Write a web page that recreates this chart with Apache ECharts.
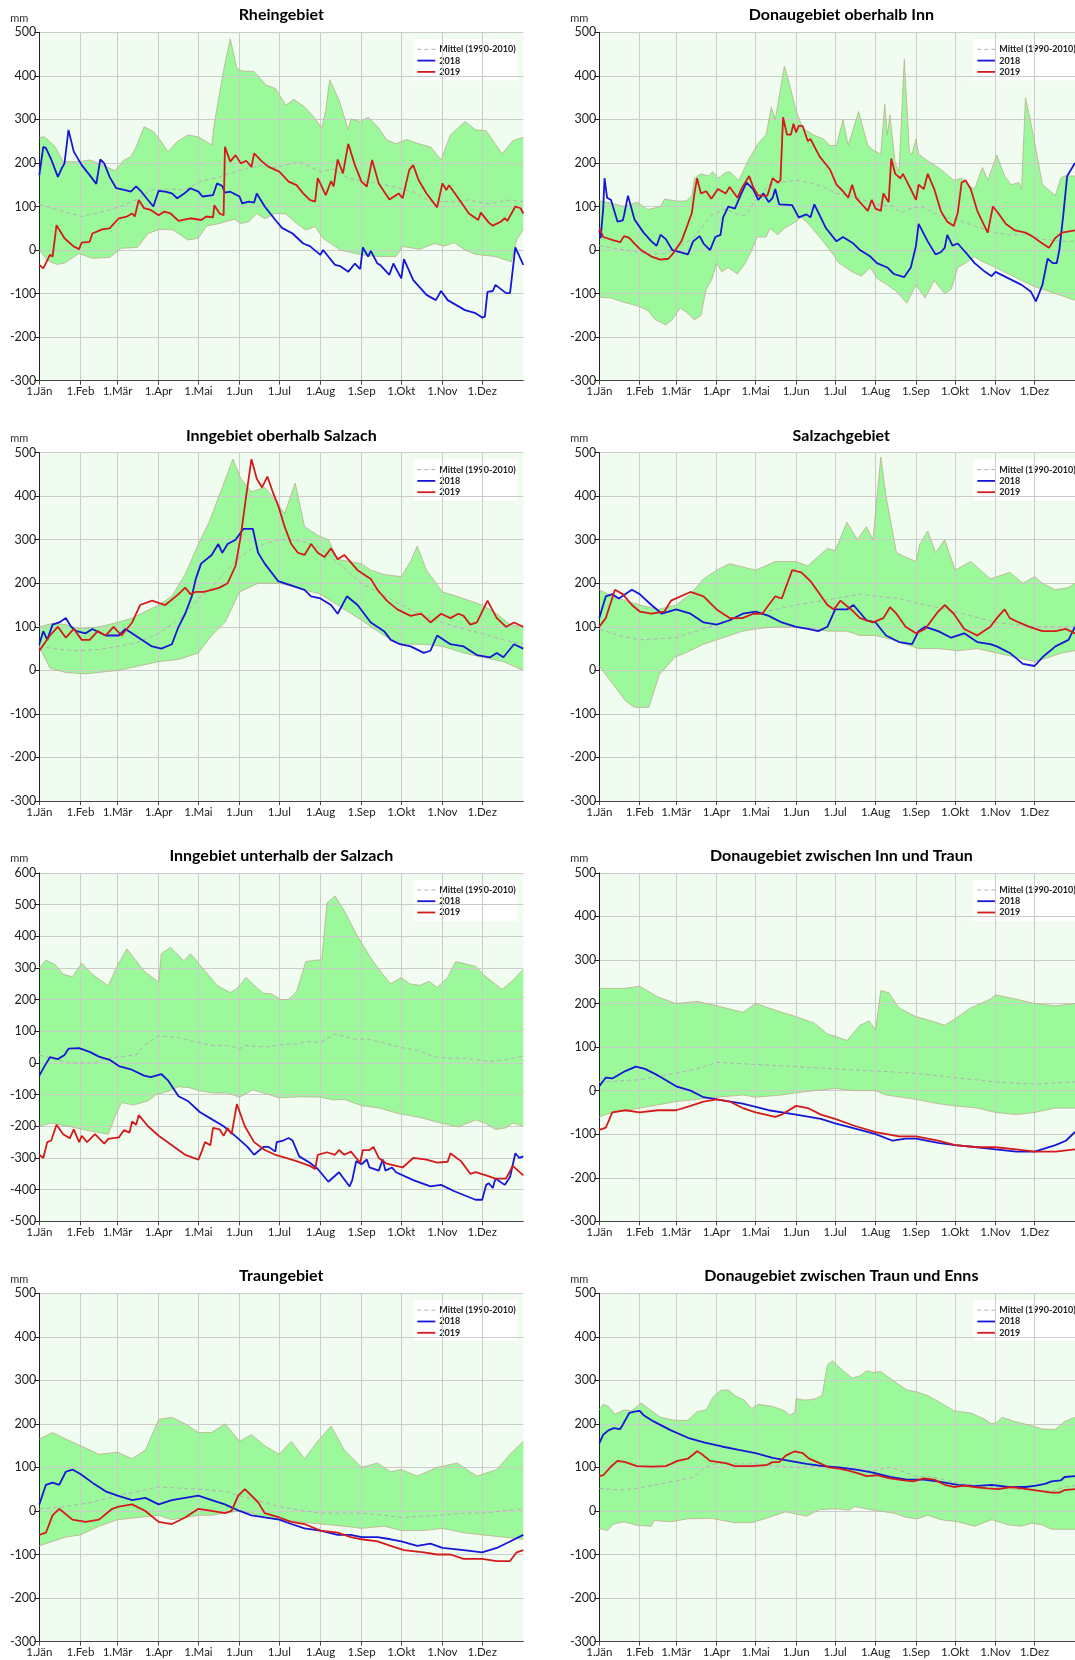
<!DOCTYPE html>
<html>
<head>
<meta charset="utf-8">
<script src="https://cdn.jsdelivr.net/npm/echarts@6/dist/echarts.min.js"></script>
<style>
html,body{margin:0;padding:0;background:#ffffff;}
#chart{width:1075px;height:1660px;}
</style>
</head>
<body>
<div id="chart"></div>
<script>
// Month ticks (day of year at the first of each month) and their labels
const monthDays = [0, 31, 59, 90, 120, 151, 181, 212, 243, 273, 304, 334];
const monthLabels = ['1.Jän', '1.Feb', '1.Mär', '1.Apr', '1.Mai', '1.Jun', '1.Jul', '1.Aug', '1.Sep', '1.Okt', '1.Nov', '1.Dez'];
const legendNames = ['Mittel (1990-2010)', '2018', '2019'];

// ---- Rheingebiet ----  [day of year, mm]
const rheinMax = [[0,258],[4,260],[12,237],[18,203],[30,203],[38,207],[48,195],[57,182],[64,207],[69,214],[73,237],[79,283],[86,272],[92,249],[97,226],[104,249],[112,264],[120,260],[126,249],[130,241],[132,291],[139,413],[144,485],[149,417],[153,411],[162,410],[171,379],[178,371],[186,333],[192,346],[200,329],[207,306],[213,280],[216,322],[219,391],[226,345],[233,276],[235,301],[242,295],[248,305],[256,280],[262,253],[269,244],[277,254],[285,245],[295,237],[303,207],[310,264],[321,295],[329,276],[337,274],[349,221],[357,251],[365,259]];
const rheinMin = [[0,0],[6,-23],[13,-33],[19,-30],[30,-8],[40,-19],[53,-17],[62,4],[74,6],[82,38],[91,48],[101,46],[112,23],[120,27],[126,55],[136,61],[147,71],[152,61],[158,65],[164,84],[170,72],[178,84],[186,83],[194,61],[201,46],[208,54],[214,27],[227,0],[243,-11],[256,-15],[269,-15],[274,8],[287,2],[298,15],[305,9],[313,17],[321,0],[329,-10],[344,-15],[356,-27],[360,23],[365,48]];
const rheinMean = [[0,105],[14,92],[32,77],[48,88],[61,100],[74,117],[84,138],[100,140],[110,138],[121,157],[136,168],[152,184],[168,195],[178,189],[196,203],[212,180],[222,186],[233,165],[251,155],[266,146],[282,134],[295,111],[313,111],[323,115],[339,106],[355,115],[365,111]];
const rhein2018 = [[0,172],[1,168],[3,237],[5,234],[9,208],[14,168],[17,188],[19,199],[22,276],[26,226],[32,195],[38,172],[43,152],[46,208],[49,199],[53,168],[58,142],[64,138],[69,134],[73,146],[77,134],[82,115],[86,100],[90,136],[95,134],[100,130],[104,119],[109,129],[114,142],[120,134],[123,123],[131,126],[134,153],[138,147],[140,132],[144,134],[151,123],[153,107],[158,111],[162,109],[164,130],[170,100],[178,69],[183,51],[191,38],[199,15],[204,9],[212,-11],[214,0],[223,-34],[227,-37],[233,-50],[238,-31],[242,-44],[244,6],[248,-15],[250,-2],[255,-31],[257,-34],[264,-57],[267,-31],[273,-65],[275,-21],[282,-69],[292,-103],[299,-115],[303,-94],[308,-115],[321,-138],[329,-145],[334,-155],[336,-153],[338,-96],[342,-94],[344,-80],[352,-99],[355,-99],[359,6],[365,-34]];
const rhein2019 = [[0,-34],[3,-42],[8,-11],[10,-15],[13,57],[19,27],[26,8],[30,2],[32,17],[38,19],[40,38],[48,48],[53,50],[60,73],[66,77],[70,84],[72,77],[75,115],[79,96],[84,92],[90,80],[94,88],[99,84],[105,67],[114,73],[122,69],[126,77],[131,75],[132,103],[136,84],[139,80],[140,237],[144,203],[148,218],[152,199],[156,205],[160,191],[162,222],[168,203],[173,191],[181,180],[188,157],[194,149],[199,130],[204,115],[208,111],[210,165],[216,126],[220,158],[222,146],[225,208],[229,176],[233,244],[238,195],[243,157],[247,146],[251,207],[256,153],[264,116],[269,126],[271,130],[274,119],[279,184],[282,195],[286,161],[292,130],[300,98],[304,153],[307,138],[309,149],[316,119],[324,84],[331,69],[333,86],[339,63],[342,56],[348,65],[351,73],[353,67],[359,100],[363,96],[365,84]];

// ---- Donaugebiet oberhalb Inn ----
const donauInnMax = [[0,113],[9,108],[19,100],[29,110],[37,93],[47,100],[50,117],[60,112],[67,113],[71,125],[73,165],[78,175],[84,170],[87,180],[91,165],[97,178],[100,180],[107,160],[115,210],[122,245],[128,265],[132,328],[135,300],[142,422],[146,380],[151,320],[156,280],[164,265],[172,255],[177,240],[182,240],[187,300],[191,240],[199,318],[206,240],[210,230],[216,220],[219,335],[221,265],[223,310],[227,200],[230,180],[234,438],[238,225],[240,220],[243,255],[245,220],[252,205],[262,185],[272,160],[278,165],[283,150],[288,140],[294,190],[298,160],[305,218],[311,170],[316,150],[322,155],[324,140],[327,350],[333,265],[340,150],[350,125],[354,165],[357,170],[365,170]];
const donauInnMin = [[0,-108],[9,-110],[19,-120],[29,-128],[37,-138],[43,-160],[51,-172],[56,-160],[62,-133],[67,-143],[73,-160],[78,-150],[82,-90],[86,-70],[90,-30],[94,-50],[99,-40],[106,-55],[112,-30],[117,0],[121,30],[128,30],[131,50],[137,35],[142,50],[148,60],[155,75],[160,62],[169,30],[177,0],[184,-30],[194,-50],[201,-60],[208,-40],[213,-65],[221,-80],[228,-95],[236,-122],[243,-80],[250,-110],[257,-70],[265,-100],[270,-90],[275,-40],[281,-30],[288,-15],[293,-25],[304,-40],[314,-55],[324,-70],[335,-85],[345,-95],[355,-105],[365,-115]];
const donauInnMean = [[0,10],[20,0],[40,-10],[50,-8],[60,5],[73,30],[86,80],[97,95],[107,80],[112,80],[120,115],[130,150],[138,155],[151,160],[161,155],[172,145],[182,130],[192,125],[203,115],[213,105],[226,100],[231,85],[239,95],[247,100],[257,85],[267,75],[275,70],[288,55],[304,40],[314,35],[329,35],[340,25],[355,20],[365,20]];
const donauInn2018 = [[0,45],[1,27],[3,95],[4,165],[6,120],[9,115],[11,95],[14,65],[18,68],[19,80],[20,80],[22,125],[27,70],[34,40],[40,20],[44,10],[47,35],[51,25],[56,0],[62,-5],[68,-10],[72,20],[77,32],[80,15],[85,0],[89,30],[93,35],[95,75],[99,100],[104,95],[109,130],[113,155],[118,140],[122,115],[126,130],[130,110],[133,120],[135,140],[138,105],[148,103],[153,75],[159,82],[162,75],[165,105],[174,50],[182,20],[187,30],[195,15],[200,0],[208,-15],[213,-30],[221,-40],[226,-55],[234,-62],[239,-40],[243,10],[245,60],[252,20],[258,-10],[262,-5],[265,5],[267,35],[271,10],[275,15],[281,-5],[288,-30],[296,-50],[301,-60],[304,-50],[314,-65],[324,-80],[331,-95],[335,-118],[340,-80],[344,-20],[348,-30],[351,-30],[353,0],[356,80],[359,170],[365,200]];
const donauInn2019 = [[0,50],[3,30],[11,22],[16,18],[19,32],[23,28],[27,15],[32,0],[40,-15],[47,-22],[53,-20],[56,-10],[63,20],[68,60],[71,85],[73,130],[75,165],[78,130],[82,135],[86,118],[91,140],[97,130],[100,145],[106,120],[109,140],[115,170],[118,145],[122,125],[129,125],[133,165],[137,155],[139,160],[141,305],[144,265],[147,265],[149,290],[151,270],[153,285],[156,285],[160,250],[162,255],[169,215],[177,185],[182,150],[187,135],[191,120],[194,150],[197,120],[203,100],[206,90],[209,115],[212,95],[216,90],[218,130],[222,110],[224,210],[227,175],[231,165],[233,175],[239,140],[243,115],[245,150],[249,140],[252,175],[257,140],[262,90],[267,65],[272,55],[275,85],[278,155],[281,160],[285,140],[290,90],[298,40],[302,100],[306,85],[312,60],[319,45],[327,40],[332,32],[340,15],[345,5],[350,28],[355,40],[365,45]];

// ---- Inngebiet oberhalb Salzach ----
const innObMax = [[0,100],[10,108],[20,105],[31,95],[45,100],[59,110],[70,120],[90,150],[100,170],[110,220],[120,290],[128,340],[138,420],[146,485],[152,440],[160,410],[170,420],[178,390],[185,360],[193,430],[200,330],[210,310],[218,300],[225,255],[243,245],[250,230],[260,220],[273,215],[280,250],[285,285],[292,230],[304,180],[315,170],[334,150],[345,130],[355,105],[365,100]];
const innObMin = [[0,55],[8,5],[20,-5],[35,-8],[50,-3],[60,0],[75,10],[90,20],[105,25],[120,40],[130,80],[140,110],[151,180],[165,200],[181,200],[200,185],[212,175],[225,150],[243,115],[260,80],[273,60],[290,60],[304,55],[320,40],[334,30],[350,20],[365,0]];
const innObMean = [[0,55],[15,48],[30,45],[45,48],[60,55],[75,65],[90,85],[100,105],[110,130],[120,165],[130,190],[140,225],[151,260],[160,278],[170,290],[181,300],[190,300],[200,295],[212,280],[228,240],[243,200],[258,175],[273,150],[290,125],[304,110],[320,95],[334,85],[350,70],[365,60]];
const innOb2018 = [[0,60],[3,90],[6,70],[10,105],[15,110],[20,120],[24,100],[28,90],[35,85],[40,95],[50,80],[60,80],[65,95],[75,75],[85,55],[92,50],[100,60],[105,100],[110,130],[115,170],[118,210],[122,245],[130,265],[135,290],[138,270],[142,290],[148,300],[154,325],[161,325],[165,270],[170,245],[180,205],[190,195],[200,185],[205,170],[212,165],[220,150],[225,130],[232,170],[240,150],[250,110],[260,90],[265,70],[272,60],[280,55],[290,40],[295,45],[300,80],[310,60],[320,55],[330,35],[340,30],[345,40],[350,30],[358,60],[365,50]];
const innOb2019 = [[0,45],[8,80],[14,100],[20,75],[26,95],[32,70],[38,70],[44,90],[50,80],[56,100],[62,80],[70,110],[76,150],[85,160],[95,150],[105,175],[110,190],[114,175],[118,180],[124,180],[130,185],[136,190],[142,200],[148,240],[152,310],[156,400],[160,485],[164,440],[168,420],[172,445],[176,410],[180,380],[185,330],[190,290],[195,270],[200,265],[205,290],[210,270],[215,260],[220,280],[225,255],[230,265],[240,230],[250,210],[255,185],[262,160],[270,140],[280,125],[288,130],[295,110],[303,130],[310,120],[316,130],[320,125],[325,105],[330,110],[338,160],[345,120],[352,100],[358,110],[365,100]];

// ---- Salzachgebiet ----
const salzachMax = [[0,185],[10,170],[20,160],[31,150],[45,140],[59,150],[70,175],[80,210],[90,230],[100,245],[120,230],[135,250],[151,250],[160,240],[175,280],[181,275],[190,340],[198,300],[205,330],[210,300],[216,490],[220,400],[228,270],[235,260],[243,250],[246,290],[252,320],[258,270],[265,300],[273,230],[285,250],[300,210],[315,225],[325,200],[334,215],[340,200],[350,185],[360,190],[365,200]];
const salzachMin = [[0,10],[10,-30],[20,-70],[27,-85],[38,-85],[46,-10],[58,30],[66,40],[80,60],[90,70],[100,80],[110,90],[120,95],[135,100],[150,100],[165,95],[175,90],[190,90],[200,80],[212,80],[225,70],[235,60],[245,50],[260,50],[275,45],[290,50],[305,40],[320,30],[334,20],[345,30],[355,40],[365,45]];
const salzachMean = [[0,95],[15,80],[31,70],[59,75],[90,105],[120,130],[151,150],[181,165],[200,175],[212,170],[230,165],[243,155],[273,135],[304,110],[334,100],[365,100]];
const salzach2018 = [[0,120],[5,170],[10,175],[15,165],[25,185],[31,175],[40,150],[48,130],[59,140],[70,130],[80,110],[90,105],[100,115],[110,130],[120,135],[130,125],[140,110],[151,100],[160,95],[168,90],[175,100],[181,140],[190,140],[195,150],[205,115],[212,110],[220,80],[230,65],[240,60],[245,90],[250,100],[260,90],[270,75],[280,85],[290,65],[300,60],[305,55],[315,40],[325,15],[334,10],[340,30],[350,55],[360,70],[365,100]];
const salzach2019 = [[0,100],[5,120],[12,185],[18,175],[25,150],[31,135],[40,130],[50,135],[55,160],[70,180],[80,170],[90,140],[100,120],[110,120],[118,130],[125,130],[130,150],[135,170],[140,165],[148,230],[155,225],[162,205],[168,180],[175,150],[180,140],[185,160],[195,135],[200,120],[210,110],[218,120],[223,145],[228,130],[235,100],[243,85],[250,95],[260,135],[265,150],[272,130],[280,95],[290,80],[300,100],[305,120],[311,140],[315,120],[322,110],[330,100],[340,90],[350,90],[358,95],[365,85]];

// ---- Inngebiet unterhalb der Salzach ----
const innUnMax = [[0,300],[5,325],[12,310],[18,280],[25,272],[32,315],[40,280],[52,243],[58,300],[66,360],[79,290],[90,255],[92,345],[99,365],[109,322],[114,345],[123,300],[134,245],[144,222],[149,235],[156,270],[162,245],[169,220],[175,218],[182,200],[188,200],[194,225],[201,320],[209,325],[213,325],[217,505],[223,527],[230,480],[240,400],[251,325],[259,280],[265,250],[273,270],[279,250],[287,245],[294,258],[300,238],[308,270],[314,320],[329,305],[336,275],[349,232],[357,260],[365,295]];
const innUnMin = [[0,-200],[9,-190],[22,-200],[35,-212],[52,-225],[58,-160],[62,-125],[71,-133],[82,-120],[88,-100],[97,-90],[105,-75],[113,-78],[121,-88],[131,-95],[142,-95],[151,-108],[161,-85],[173,-100],[181,-110],[196,-107],[212,-108],[222,-117],[230,-115],[243,-135],[256,-142],[271,-160],[287,-172],[303,-190],[316,-202],[329,-180],[336,-190],[344,-210],[352,-205],[357,-190],[365,-200]];
const innUnMean = [[0,25],[9,15],[22,0],[42,0],[48,12],[61,20],[73,25],[79,55],[90,85],[105,80],[116,68],[131,55],[142,55],[151,45],[156,55],[171,50],[183,58],[194,60],[201,68],[212,65],[223,92],[238,75],[248,75],[261,62],[271,50],[285,40],[297,20],[308,15],[321,15],[339,5],[349,8],[365,22]];
const innUn2018 = [[0,-40],[4,-10],[8,18],[14,12],[19,25],[22,45],[30,47],[38,35],[45,20],[53,10],[60,-10],[69,-20],[79,-40],[84,-45],[92,-35],[97,-55],[105,-105],[112,-120],[121,-155],[129,-175],[139,-200],[149,-235],[157,-265],[162,-290],[169,-265],[173,-265],[178,-280],[179,-250],[184,-245],[188,-237],[191,-245],[196,-295],[204,-315],[210,-335],[218,-375],[226,-345],[234,-390],[236,-370],[239,-310],[243,-320],[247,-305],[249,-330],[256,-340],[259,-305],[261,-340],[266,-330],[269,-345],[282,-370],[295,-390],[303,-385],[313,-405],[329,-432],[334,-432],[337,-385],[339,-380],[342,-395],[344,-365],[351,-385],[355,-360],[359,-285],[362,-300],[365,-295]];
const innUn2019 = [[0,-290],[3,-300],[6,-250],[9,-245],[13,-195],[18,-225],[23,-238],[26,-210],[30,-250],[32,-230],[36,-250],[42,-225],[49,-255],[52,-240],[60,-235],[64,-212],[68,-220],[70,-185],[73,-195],[75,-165],[82,-200],[90,-230],[100,-260],[110,-290],[120,-305],[122,-285],[125,-250],[129,-260],[131,-205],[136,-210],[139,-230],[142,-205],[145,-225],[149,-130],[155,-200],[162,-250],[170,-275],[178,-290],[186,-300],[194,-310],[204,-325],[208,-335],[210,-290],[217,-282],[223,-290],[226,-275],[230,-290],[235,-280],[242,-315],[244,-275],[249,-275],[252,-265],[256,-300],[262,-318],[274,-330],[282,-300],[292,-305],[300,-315],[308,-312],[310,-285],[318,-310],[325,-350],[329,-345],[337,-355],[344,-365],[352,-365],[357,-325],[365,-355]];

// ---- Donaugebiet zwischen Inn und Traun ----
const donauTrMax = [[0,235],[20,235],[31,240],[45,215],[59,200],[75,205],[90,195],[110,180],[120,200],[140,180],[151,170],[165,155],[175,130],[181,125],[190,115],[200,150],[207,160],[212,140],[216,230],[222,225],[230,190],[243,170],[255,160],[265,150],[273,165],[285,190],[300,210],[304,220],[320,210],[334,200],[350,195],[365,200]];
const donauTrMin = [[0,-60],[10,-50],[31,-40],[50,-30],[59,-25],[75,-20],[90,-15],[110,-10],[120,-15],[140,-10],[151,-5],[165,0],[181,5],[195,0],[212,0],[220,-10],[243,-20],[260,-30],[273,-35],[290,-40],[304,-50],[320,-55],[334,-50],[350,-40],[365,-40]];
const donauTrMean = [[0,20],[31,25],[59,40],[75,50],[90,65],[120,60],[151,55],[181,50],[212,45],[243,40],[273,30],[304,20],[334,15],[365,20]];
const donauTr2018 = [[0,10],[5,30],[10,28],[20,45],[28,55],[35,50],[45,35],[59,10],[70,0],[80,-15],[90,-20],[110,-30],[130,-45],[151,-55],[170,-65],[181,-75],[200,-90],[212,-100],[225,-115],[235,-110],[243,-110],[260,-120],[273,-125],[290,-130],[304,-135],[320,-140],[334,-140],[350,-125],[358,-115],[365,-95]];
const donauTr2019 = [[0,-90],[5,-85],[10,-50],[20,-45],[31,-50],[45,-45],[59,-45],[70,-35],[80,-25],[90,-20],[100,-25],[110,-40],[120,-50],[135,-60],[140,-55],[151,-35],[160,-40],[170,-55],[181,-65],[195,-80],[212,-95],[230,-105],[243,-105],[260,-115],[273,-125],[290,-130],[304,-130],[320,-135],[334,-140],[350,-140],[365,-135]];

// ---- Traungebiet ----
const traunMax = [[0,165],[10,180],[20,165],[31,150],[45,130],[59,135],[70,120],[80,140],[90,210],[100,215],[110,200],[120,180],[130,180],[140,200],[151,160],[160,175],[170,150],[181,130],[190,160],[200,120],[210,160],[220,195],[230,140],[243,100],[255,110],[265,90],[273,95],[285,80],[300,100],[315,110],[330,80],[345,95],[355,130],[365,160]];
const traunMin = [[0,-80],[10,-70],[20,-60],[31,-55],[45,-35],[59,-20],[75,-15],[90,-10],[100,-20],[110,-15],[120,-10],[130,-10],[140,-5],[151,0],[160,-5],[170,-15],[181,-20],[195,-25],[212,-30],[230,-35],[243,-40],[260,-35],[273,-45],[290,-45],[304,-40],[320,-50],[334,-55],[350,-60],[365,-65]];
const traunMean = [[0,5],[20,10],[40,20],[59,35],[90,55],[120,50],[140,45],[151,35],[170,20],[181,10],[200,0],[212,-5],[243,-5],[260,-10],[273,-15],[300,-10],[320,-5],[334,-5],[365,5]];
const traun2018 = [[0,15],[5,60],[10,65],[15,60],[20,90],[25,95],[31,85],[40,65],[50,45],[59,35],[70,25],[80,30],[90,15],[100,25],[110,30],[120,35],[130,25],[140,15],[151,0],[160,-10],[170,-15],[181,-20],[190,-30],[200,-40],[212,-45],[225,-55],[235,-55],[243,-60],[255,-60],[265,-65],[273,-70],[285,-80],[295,-75],[304,-85],[320,-90],[334,-95],[345,-85],[355,-70],[365,-55]];
const traun2019 = [[0,-55],[5,-50],[10,-10],[15,5],[25,-20],[35,-25],[45,-20],[55,5],[60,10],[70,15],[80,0],[90,-25],[100,-30],[110,-15],[120,5],[130,0],[140,-5],[145,0],[150,35],[155,50],[165,20],[170,-5],[181,-15],[190,-25],[200,-30],[212,-45],[225,-50],[235,-60],[243,-65],[255,-70],[265,-80],[275,-90],[290,-95],[300,-100],[310,-100],[320,-110],[334,-110],[345,-115],[355,-115],[360,-95],[365,-90]];

// ---- Donaugebiet zwischen Traun und Enns ----
const donauEnMax = [[0,232],[3,245],[7,240],[12,222],[19,232],[25,230],[32,248],[40,230],[47,215],[58,208],[68,208],[75,228],[82,232],[87,260],[93,277],[99,278],[104,265],[111,255],[117,235],[122,245],[133,240],[142,230],[146,220],[150,226],[151,258],[156,255],[161,255],[166,258],[171,265],[175,335],[179,345],[184,330],[194,305],[200,310],[205,322],[210,318],[216,320],[226,298],[236,278],[244,273],[252,265],[262,248],[272,230],[285,225],[296,210],[301,200],[305,203],[309,215],[319,205],[329,198],[340,188],[350,187],[357,205],[365,215]];
const donauEnMin = [[0,-40],[6,-45],[11,-30],[19,-25],[29,-33],[40,-35],[42,-22],[55,-25],[68,-18],[86,-17],[104,-27],[117,-27],[130,-15],[143,-2],[159,-12],[169,3],[182,5],[192,2],[196,10],[210,2],[226,-5],[236,-15],[244,-18],[252,-10],[262,-20],[275,-25],[288,-35],[301,-20],[314,-32],[324,-35],[332,-28],[340,-32],[347,-42],[357,-42],[365,-42]];
const donauEnMean = [[0,52],[16,48],[29,52],[47,62],[60,70],[73,78],[81,100],[91,110],[107,108],[120,108],[138,103],[151,100],[166,102],[179,100],[195,96],[210,92],[223,100],[234,90],[244,78],[252,80],[267,70],[278,62],[288,60],[304,55],[319,50],[335,48],[347,45],[357,55],[365,58]];
const donauEn2018 = [[0,155],[3,175],[7,185],[11,190],[16,188],[18,198],[23,225],[27,228],[31,230],[34,220],[42,205],[55,185],[68,168],[81,157],[94,148],[107,140],[120,133],[133,122],[146,115],[159,108],[172,103],[184,100],[197,95],[210,88],[223,78],[236,72],[249,72],[262,67],[275,60],[288,57],[301,60],[314,55],[327,55],[335,58],[342,62],[347,68],[354,70],[357,78],[365,80]];
const donauEn2019 = [[0,80],[3,82],[9,102],[14,115],[20,112],[29,103],[40,102],[51,103],[55,108],[60,115],[68,120],[75,137],[78,132],[85,115],[97,110],[104,103],[117,103],[128,105],[133,112],[138,112],[143,127],[150,137],[156,133],[161,120],[169,110],[176,100],[184,97],[192,92],[200,85],[205,80],[213,82],[223,75],[234,70],[241,68],[249,75],[257,72],[265,60],[272,55],[280,58],[288,55],[298,52],[306,50],[316,55],[324,52],[335,47],[347,42],[353,42],[357,48],[365,50]];

// Panel list: grid column/row, axis range and the series arrays
const panels = [
  {title: 'Rheingebiet', col: 0, row: 0, yMin: -300, yMax: 500, hi: rheinMax, lo: rheinMin, mean: rheinMean, a: rhein2018, b: rhein2019},
  {title: 'Donaugebiet oberhalb Inn', col: 1, row: 0, yMin: -300, yMax: 500, hi: donauInnMax, lo: donauInnMin, mean: donauInnMean, a: donauInn2018, b: donauInn2019},
  {title: 'Inngebiet oberhalb Salzach', col: 0, row: 1, yMin: -300, yMax: 500, hi: innObMax, lo: innObMin, mean: innObMean, a: innOb2018, b: innOb2019},
  {title: 'Salzachgebiet', col: 1, row: 1, yMin: -300, yMax: 500, hi: salzachMax, lo: salzachMin, mean: salzachMean, a: salzach2018, b: salzach2019},
  {title: 'Inngebiet unterhalb der Salzach', col: 0, row: 2, yMin: -500, yMax: 600, hi: innUnMax, lo: innUnMin, mean: innUnMean, a: innUn2018, b: innUn2019},
  {title: 'Donaugebiet zwischen Inn und Traun', col: 1, row: 2, yMin: -300, yMax: 500, hi: donauTrMax, lo: donauTrMin, mean: donauTrMean, a: donauTr2018, b: donauTr2019},
  {title: 'Traungebiet', col: 0, row: 3, yMin: -300, yMax: 500, hi: traunMax, lo: traunMin, mean: traunMean, a: traun2018, b: traun2019},
  {title: 'Donaugebiet zwischen Traun und Enns', col: 1, row: 3, yMin: -300, yMax: 500, hi: donauEnMax, lo: donauEnMin, mean: donauEnMean, a: donauEn2018, b: donauEn2019}
];

// Layout of the 2 x 4 panel grid (pixels)
const COL_LEFT = [39.3, 599.3];
const ROW_TOP = [32.3, 452.6, 872.9, 1293.2];
const PLOT_W = 484;
const PLOT_H = 348.4;

const FONT = 'Lato, "Liberation Sans", sans-serif';
const GRID_COLOR = '#cbcbcb';
const BAND_FILL = 'rgba(128,246,128,0.76)';
const BAND_EDGE = '#bcae8e';
const MEAN_COLOR = '#b6aeb6';
const MEAN_DASH = [4, 3];
const BLUE = '#1616d6';
const RED = '#d41a1a';
const LINE_W = 1.8;

const option = {
  animation: false,
  backgroundColor: '#ffffff',
  textStyle: {fontFamily: FONT},
  title: [],
  grid: [],
  xAxis: [],
  yAxis: [],
  series: [],
  graphic: []
};

// Legend box in the upper right corner of a panel
function legendBox(x, y) {
  const rows = [
    {name: legendNames[0], color: MEAN_COLOR, dash: MEAN_DASH, width: 1},
    {name: legendNames[1], color: BLUE, dash: null, width: LINE_W},
    {name: legendNames[2], color: RED, dash: null, width: LINE_W}
  ];
  const children = [{type: 'rect', shape: {x: 0, y: 0, width: 104, height: 41}, style: {fill: '#ffffff'}}];
  rows.forEach((r, k) => {
    const cy = 10 + k * 11.3;
    children.push({type: 'line', shape: {x1: 4, y1: cy, x2: 22, y2: cy},
      style: {stroke: r.color, lineWidth: r.width, lineDash: r.dash}});
    children.push({type: 'text', x: 26, y: cy,
      style: {text: r.name, fill: '#222', font: 'bold 9px ' + FONT, verticalAlign: 'middle', textVerticalAlign: 'middle'}});
  });
  return {type: 'group', x: x, y: y, z: 20, silent: true, children: children};
}

panels.forEach((p, i) => {
  const left = COL_LEFT[p.col];
  const top = ROW_TOP[p.row];

  option.grid.push({
    left: left, top: top, width: PLOT_W, height: PLOT_H,
    show: true, backgroundColor: '#f1fcf1', borderWidth: 0, z: 0
  });

  option.title.push({
    text: p.title,
    left: left + PLOT_W / 2, top: top - 25, textAlign: 'center', padding: 0,
    textStyle: {fontFamily: FONT, fontSize: 16, fontWeight: 'bold', color: '#000'}
  });

  option.graphic.push({
    type: 'text', x: left - 20, y: top - 14, z: 10,
    style: {text: 'mm', align: 'center', verticalAlign: 'middle', textAlign: 'center', textVerticalAlign: 'middle',
            font: '11px ' + FONT, fill: '#333'}
  });
  option.graphic.push(legendBox(left + 374, top + 7));

  option.xAxis.push({
    type: 'value', gridIndex: i, min: 0, max: 365, z: 2,
    axisLine: {show: true, onZero: false, lineStyle: {color: '#444', width: 1}},
    axisTick: {show: true, length: 4, customValues: monthDays, lineStyle: {color: '#444'}},
    axisLabel: {
      customValues: monthDays, margin: 5, fontSize: 11.5, color: '#222', fontFamily: FONT,
      formatter: v => monthLabels[monthDays.indexOf(Math.round(v))]
    },
    splitLine: {show: true, lineStyle: {color: GRID_COLOR, width: 1}}
  });

  option.yAxis.push({
    type: 'value', gridIndex: i, min: p.yMin, max: p.yMax, interval: 100, z: 2,
    axisLine: {show: true, onZero: false, lineStyle: {color: '#222', width: 1}},
    axisTick: {show: true, length: 5, lineStyle: {color: '#222'}},
    axisLabel: {margin: 3, fontSize: 12.5, color: '#222', fontFamily: FONT},
    splitLine: {show: true, lineStyle: {color: GRID_COLOR, width: 1}}
  });

  // Min/max range band as one polygon between the upper and lower envelope
  const hi = p.hi, lo = p.lo;
  option.series.push({
    type: 'custom', name: 'Bereich', xAxisIndex: i, yAxisIndex: i, z: 1, silent: true,
    data: [[0, 0]],
    renderItem: (params, api) => {
      const pts = hi.map(d => api.coord(d)).concat(lo.slice().reverse().map(d => api.coord(d)));
      return {type: 'polygon', shape: {points: pts}, style: {fill: BAND_FILL, stroke: null}};
    }
  });

  const edge = data => ({
    type: 'line', name: 'Rand', xAxisIndex: i, yAxisIndex: i, z: 3, silent: true,
    data: data, symbol: 'none', lineStyle: {color: BAND_EDGE, width: 0.8}
  });
  option.series.push(edge(hi), edge(lo));

  option.series.push({
    type: 'line', name: legendNames[0], xAxisIndex: i, yAxisIndex: i, z: 4,
    data: p.mean, symbol: 'none', color: MEAN_COLOR,
    lineStyle: {color: MEAN_COLOR, width: 1, type: MEAN_DASH}
  });
  option.series.push({
    type: 'line', name: legendNames[1], xAxisIndex: i, yAxisIndex: i, z: 5,
    data: p.a, symbol: 'none', color: BLUE,
    lineStyle: {color: BLUE, width: LINE_W}
  });
  option.series.push({
    type: 'line', name: legendNames[2], xAxisIndex: i, yAxisIndex: i, z: 6,
    data: p.b, symbol: 'none', color: RED,
    lineStyle: {color: RED, width: LINE_W}
  });
});

const chart = echarts.init(document.getElementById('chart'), null, {renderer: 'canvas'});
chart.setOption(option);
</script>
</body>
</html>
